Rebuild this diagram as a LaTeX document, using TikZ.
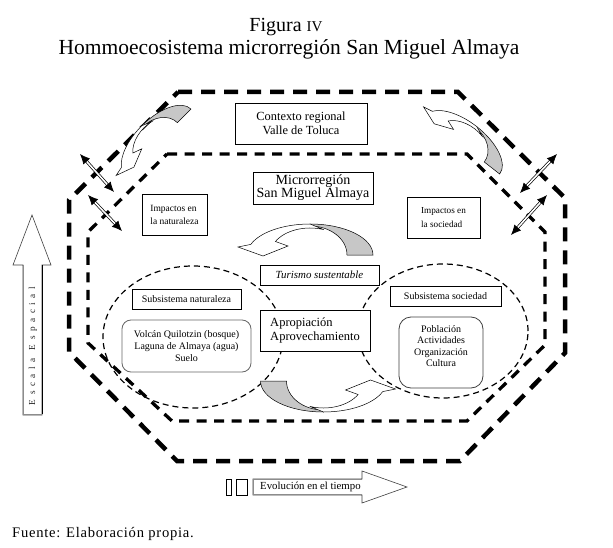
\documentclass[tikz,border=0pt]{standalone}
\usepackage{fontspec}
\setmainfont{Liberation Serif}
\newfontfamily\spacedfont[LetterSpace=50]{Liberation Serif}
\newfontfamily\fuentefont[LetterSpace=5]{Liberation Serif}
\usetikzlibrary{arrows.meta,calc}
\newcommand\myfs[2]{\fontsize{#1}{#2}\selectfont}
\tikzset{
  outerdash/.style={line width=4.5pt, dash pattern=on 14pt off 9pt},
  innerdash/.style={line width=3.3pt, dash pattern=on 10pt off 7.5pt},
  elldash/.style={line width=1.2pt, dash pattern=on 6pt off 4pt},
  box/.style={draw, line width=0.8pt, fill=white, inner sep=0pt, align=center},
  rbox/.style={box, rounded corners=9pt, draw=black!60},
  dblshaft/.style={line width=0.7pt, double=white, double distance=1.6pt},
  tiphead/.style={-{Latex[length=10pt,width=9pt]}, line width=0.7pt},
  curvegray/.style={fill=black!22, draw=black, line width=0.5pt},
  curvewhite/.style={fill=white, draw=black, line width=0.5pt},
  blockarrow/.style={draw=black!75, line width=0.6pt, fill=white}
}
\newcommand\dblarrow[2]{%
  \draw[dblshaft, shorten <=8pt, shorten >=8pt] (#1) -- (#2);
  \draw[tiphead] ($(#1)!9pt!(#2)$) -- (#1);
  \draw[tiphead] ($(#2)!9pt!(#1)$) -- (#2);}
\newcommand\curvedarrow[4]{%
  \begin{scope}[shift={(#1,#2)}, x=1pt, y=1pt, rotate=#3, scale=#4]
    \filldraw[curvegray] (63,0) arc[start angle=0, end angle=90, x radius=63pt, y radius=31pt]
      -- (0,29) arc[start angle=90, end angle=0, x radius=37pt, y radius=29pt] -- cycle;
    \filldraw[curvewhite] (0,31) arc[start angle=90, end angle=160, x radius=63pt, y radius=31pt]
      -- (-72,8) -- (-47,-1) -- (-22,9) -- (-34.6,13.5)
      arc[start angle=150, end angle=70, x radius=40pt, y radius=27pt] -- cycle;
  \end{scope}}
\begin{document}
\begin{tikzpicture}[x=1pt, y=-1pt]
\fill[white] (0,0) rectangle (613,548);
\useasboundingbox (0,0) rectangle (613,548);

% titles
\node[font=\myfs{20}{24}, anchor=base] (t1) at (286,31.5) {Figura {\myfs{15}{15}IV}};
\node[font=\myfs{21.5}{24}, anchor=base] (t2) at (289,55) {Hommoecosistema microrregión San Miguel Almaya};

% octagons
\draw[outerdash] (178,92) -- (458,92) -- (565,198) -- (565,353) -- (460,461) -- (177,461) -- (69,352) -- (69,200) -- cycle;
\draw[innerdash] (167,154) -- (467,154) -- (545,232) -- (545,345) -- (467,421) -- (172,421) -- (88,343) -- (88,232) -- cycle;

% ellipses
\draw[elldash] (193,337) ellipse [x radius=90pt, y radius=71pt];
\draw[elldash] (443,331) ellipse [x radius=85pt, y radius=67pt];

% curved arrows
\curvedarrow{158}{142}{45}{0.74}
\curvedarrow{462.4}{144.9}{-38}{0.75}
\curvedarrow{310}{255}{0}{1}
\curvedarrow{323.5}{381}{180}{1}

% double arrows
\coordinate (l1a) at (80,154);  \coordinate (l1b) at (114,192);
\coordinate (l2a) at (88,195);  \coordinate (l2b) at (122,231);
\coordinate (r1a) at (557,154); \coordinate (r1b) at (520,193);
\coordinate (r2a) at (547,195); \coordinate (r2b) at (511,235);
\dblarrow{l1a}{l1b}
\dblarrow{l2a}{l2b}
\dblarrow{r1a}{r1b}
\dblarrow{r2a}{r2b}

% boxes
\node[box, minimum width=132pt, minimum height=41pt, font=\myfs{12.4}{13.5}] (ctx) at (301,123.5) {Contexto regional\\Valle de Toluca};
\node[box, minimum width=120pt, minimum height=32pt, font=\myfs{14}{13}] (micro) at (313,188) {Microrregión\\San Miguel Almaya};
\node[box, align=left, minimum width=65pt, minimum height=41pt, font=\myfs{9.5}{13}] (imn) at (174.5,214.5) {Impactos en\\la naturaleza};
\node[box, align=left, minimum width=73pt, minimum height=41pt, font=\myfs{9.2}{14}] (ims) at (443.5,217.5) {Impactos en\\la sociedad};
\node[box, minimum width=119pt, minimum height=20pt, font=\myfs{10.9}{12}\itshape] (tur) at (319.5,275) {Turismo sustentable};
\node[box, align=left, minimum width=110pt, minimum height=41pt, font=\myfs{12.5}{14}] (apr) at (315,330.5) {Apropiación\\Aprovechamiento};
\node[box, minimum width=109pt, minimum height=20pt, font=\myfs{10}{12}] (subn) at (186.5,299) {Subsistema naturaleza};
\node[rbox, minimum width=129pt, minimum height=52pt, font=\myfs{10}{11.7}] (volc) at (186.5,346) {Volcán Quilotzin (bosque)\\Laguna de Almaya (agua)\\Suelo};
\node[box, minimum width=111pt, minimum height=20pt, font=\myfs{10}{12}] (subs) at (445.5,296) {Subsistema sociedad};
\node[rbox, rounded corners=12pt, draw=black!75, minimum width=84pt, minimum height=71pt, font=\myfs{10}{11.5}] (pob) at (441,352.5)
  {\raisebox{5.5pt}[\height][\depth]{\begin{tabular}{@{}c@{}}Población\\Actividades\\Organización\\Cultura\end{tabular}}};

% Escala espacial arrow
\draw[blockarrow] (32,215) -- (51,265) -- (42,265) -- (42,415) -- (23,415) -- (23,265) -- (13,265) -- cycle;
\draw[black!45, line width=1.5pt] (23.5,265) -- (23.5,414.5) -- (42,414.5);
\draw[black, line width=1pt] (42,265) -- (42,414);
\node[rotate=90, font=\spacedfont\myfs{9.2}{10}, text=black!85] (esc) at (33,346) {Escala\hspace{8pt}Espacial};

% Evolucion arrow
\node[draw, line width=0.8pt, inner sep=0pt, minimum width=5pt, minimum height=16pt] (r1) at (228.5,487) {};
\node[draw, line width=0.8pt, inner sep=0pt, minimum width=11pt, minimum height=16pt] (r2) at (241.5,487) {};
\draw[blockarrow] (253,479) -- (362,479) -- (362,471) -- (407,487) -- (362,503) -- (362,495) -- (253,495) -- cycle;
\draw[black!45, line width=1.4pt] (362,479.5) -- (253.5,479.5) -- (253.5,494.5) -- (362,494.5);
\node[font=\myfs{10.8}{12}, anchor=west, inner sep=0pt] (evo) at (260,487) {Evolución en el tiempo};

% source
\node[font=\fuentefont\myfs{14.6}{16}, anchor=base west, inner sep=0pt] (src) at (12,537) {Fuente: Elaboración propia.};
\end{tikzpicture}
\end{document}
